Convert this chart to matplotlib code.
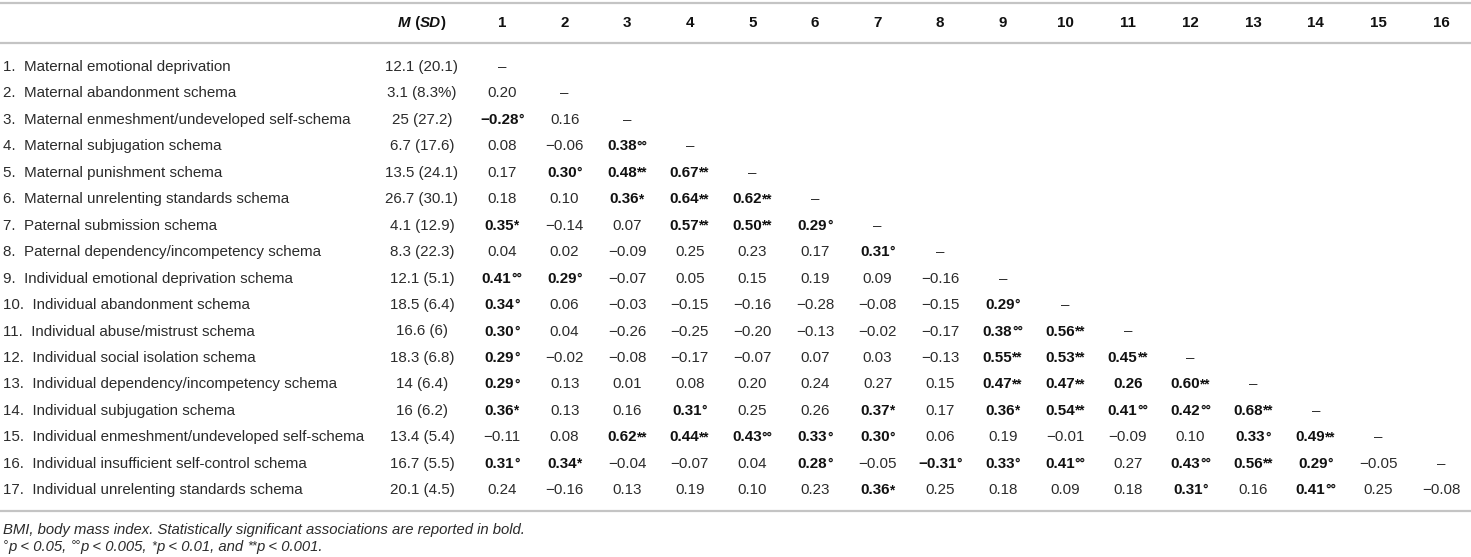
import matplotlib

matplotlib.use("Agg")
import matplotlib.pyplot as plt
from matplotlib.offsetbox import AnnotationBbox, HPacker, TextArea

plt.rcParams["font.family"] = ["Liberation Sans", "DejaVu Sans"]

LABELS = [
    "Maternal emotional deprivation",
    "Maternal abandonment schema",
    "Maternal enmeshment/undeveloped self-schema",
    "Maternal subjugation schema",
    "Maternal punishment schema",
    "Maternal unrelenting standards schema",
    "Paternal submission schema",
    "Paternal dependency/incompetency schema",
    "Individual emotional deprivation schema",
    "Individual abandonment schema",
    "Individual abuse/mistrust schema",
    "Individual social isolation schema",
    "Individual dependency/incompetency schema",
    "Individual subjugation schema",
    "Individual enmeshment/undeveloped self-schema",
    "Individual insufficient self-control schema",
    "Individual unrelenting standards schema",
]

MEAN_SD = [
    "12.1 (20.1)", "3.1 (8.3%)", "25 (27.2)", "6.7 (17.6)", "13.5 (24.1)",
    "26.7 (30.1)", "4.1 (12.9)", "8.3 (22.3)", "12.1 (5.1)", "18.5 (6.4)",
    "16.6 (6)", "18.3 (6.8)", "14 (6.4)", "16 (6.2)", "13.4 (5.4)",
    "16.7 (5.5)", "20.1 (4.5)",
]

COL_HEADERS = [str(i) for i in range(1, 17)]

# lower triangle, "–" on the diagonal
CORR = [
    ["–"],
    ["0.20", "–"],
    ["−0.28°", "0.16", "–"],
    ["0.08", "−0.06", "0.38°°", "–"],
    ["0.17", "0.30°", "0.48**", "0.67**", "–"],
    ["0.18", "0.10", "0.36*", "0.64**", "0.62**", "–"],
    ["0.35*", "−0.14", "0.07", "0.57**", "0.50**", "0.29°", "–"],
    ["0.04", "0.02", "−0.09", "0.25", "0.23", "0.17", "0.31°", "–"],
    ["0.41°°", "0.29°", "−0.07", "0.05", "0.15", "0.19", "0.09", "−0.16", "–"],
    ["0.34°", "0.06", "−0.03", "−0.15", "−0.16", "−0.28", "−0.08", "−0.15", "0.29°", "–"],
    ["0.30°", "0.04", "−0.26", "−0.25", "−0.20", "−0.13", "−0.02", "−0.17", "0.38°°",
     "0.56**", "–"],
    ["0.29°", "−0.02", "−0.08", "−0.17", "−0.07", "0.07", "0.03", "−0.13", "0.55**",
     "0.53**", "0.45**", "–"],
    ["0.29°", "0.13", "0.01", "0.08", "0.20", "0.24", "0.27", "0.15", "0.47**",
     "0.47**", "0.26", "0.60**", "–"],
    ["0.36*", "0.13", "0.16", "0.31°", "0.25", "0.26", "0.37*", "0.17", "0.36*",
     "0.54**", "0.41°°", "0.42°°", "0.68**", "–"],
    ["−0.11", "0.08", "0.62**", "0.44**", "0.43°°", "0.33°", "0.30°", "0.06", "0.19",
     "−0.01", "−0.09", "0.10", "0.33°", "0.49**", "–"],
    ["0.31°", "0.34*", "−0.04", "−0.07", "0.04", "0.28°", "−0.05", "−0.31°", "0.33°",
     "0.41°°", "0.27", "0.43°°", "0.56**", "0.29°", "−0.05", "–"],
    ["0.24", "−0.16", "0.13", "0.19", "0.10", "0.23", "0.36*", "0.25", "0.18", "0.09",
     "0.18", "0.31°", "0.16", "0.41°°", "0.25", "−0.08"],
]

# bold without a significance mark (row, col), 1-based
EXTRA_BOLD = [(13, 11)]

NOTE1 = "BMI, body mass index. Statistically significant associations are reported in bold."
NOTE2 = [("°", True), ("p < 0.05, ", False), ("°°", True), ("p < 0.005, ", False),
         ("*", True), ("p < 0.01, and ", False), ("**", True), ("p < 0.001.", False)]

TXT = "#2b2b2b"
BOLD = "#111111"
RULE = "#c4c4c4"
FS = 10.9
W, H = 1471, 557

fig = plt.figure(figsize=(W / 100, H / 100), dpi=100)
ax = fig.add_axes([0, 0, 1, 1])
ax.set_xlim(0, W)
ax.set_ylim(H, 0)
ax.axis("off")

x_label, x_msd = 3, 422
col_x = [502 + 62.6 * j for j in range(16)]
y_head, y_row0, dy = 23, 67, 26.45


def put_group(parts, x, y, ha=0.5):
    boxes = []
    for s, size, weight, style, color in parts:
        boxes.append(TextArea(s, textprops=dict(fontsize=size, fontweight=weight,
                                                fontstyle=style, color=color)))
    pack = HPacker(children=boxes, align="top", pad=0, sep=0)
    ab = AnnotationBbox(pack, (x, y), xycoords="data", box_alignment=(ha, 0.5),
                        frameon=False, pad=0)
    ax.add_artist(ab)


# rules
for y in (3, 43, 511):
    ax.plot([0, W], [y, y], color=RULE, lw=1.6, solid_capstyle="butt")

# header
put_group([("M", FS, "bold", "italic", BOLD), (" (", FS, "bold", "normal", BOLD),
           ("SD", FS, "bold", "italic", BOLD), (")", FS, "bold", "normal", BOLD)],
          x_msd, y_head)
for x, h in zip(col_x, COL_HEADERS):
    ax.text(x, y_head, h, ha="center", va="center", fontsize=FS, fontweight="bold",
            color=BOLD)

# body
for i, (lab, msd, row) in enumerate(zip(LABELS, MEAN_SD, CORR)):
    y = y_row0 + i * dy
    ax.text(x_label, y, f"{i + 1}.  {lab}", ha="left", va="center", fontsize=FS,
            color=TXT)
    ax.text(x_msd, y, msd, ha="center", va="center", fontsize=FS, color=TXT)
    for j, v in enumerate(row):
        x = col_x[j]
        num = v.rstrip("°*")
        mark = v[len(num):]
        bold = bool(mark) or (i + 1, j + 1) in EXTRA_BOLD
        if not mark:
            ax.text(x, y, num, ha="center", va="center", fontsize=FS,
                    fontweight="bold" if bold else "normal",
                    color=BOLD if bold else TXT)
        else:
            put_group([(num, FS, "bold", "normal", BOLD),
                       (mark, FS * 0.9, "bold", "normal", BOLD)], x, y)

# footnotes
FN = FS * 0.98
ax.text(x_label, 530, NOTE1, ha="left", va="center", fontsize=FN,
        fontstyle="italic", color=TXT)
put_group([(s, FN * (0.85 if small else 1), "normal", "italic", TXT)
           for s, small in NOTE2], x_label, 547, ha=0)

fig.savefig("out.png", dpi=100)
